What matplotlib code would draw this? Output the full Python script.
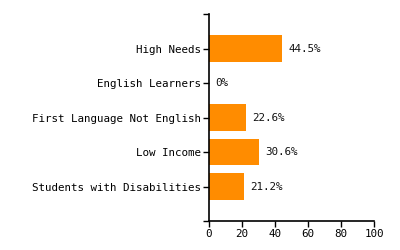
import matplotlib
matplotlib.use("Agg")
import matplotlib.pyplot as plt

categories = ["High Needs", "English Learners", "First Language Not English", "Low Income", "Students with Disabilities"]
values = [44.5, 0, 22.6, 30.6, 21.2]
xticks = [0, 20, 40, 60, 80, 100]

plt.rcParams['font.family'] = ['DejaVu Sans Mono']
fig = plt.figure(figsize=(4, 2.5), dpi=100)
ax = fig.add_axes([209/400, 1-221/250, (374-209)/400, (221-14)/250])
pos = list(range(len(categories)))
ax.barh(pos, values, height=0.78, color="#FF8C00")
for p, v in zip(pos, values):
    ax.text(v + 3.5, p, f"{v:g}%", va="center", ha="left", fontsize=7.8, color="#111111")
ax.set_xlim(0, 100)
ax.set_ylim(5, -1)
ax.set_yticks([-1] + pos + [5])
ax.set_yticklabels([""] + categories + [""])
ax.set_xticks(xticks)
ax.set_xticklabels([str(t) for t in xticks])
for s in ["top", "right"]:
    ax.spines[s].set_visible(False)
for s in ["left", "bottom"]:
    ax.spines[s].set_linewidth(1.2)
    ax.spines[s].set_color("black")
ax.tick_params(axis="both", length=4, width=1, pad=1.5, labelsize=7.8, colors="black")
fig.savefig("out.png", dpi=100)
